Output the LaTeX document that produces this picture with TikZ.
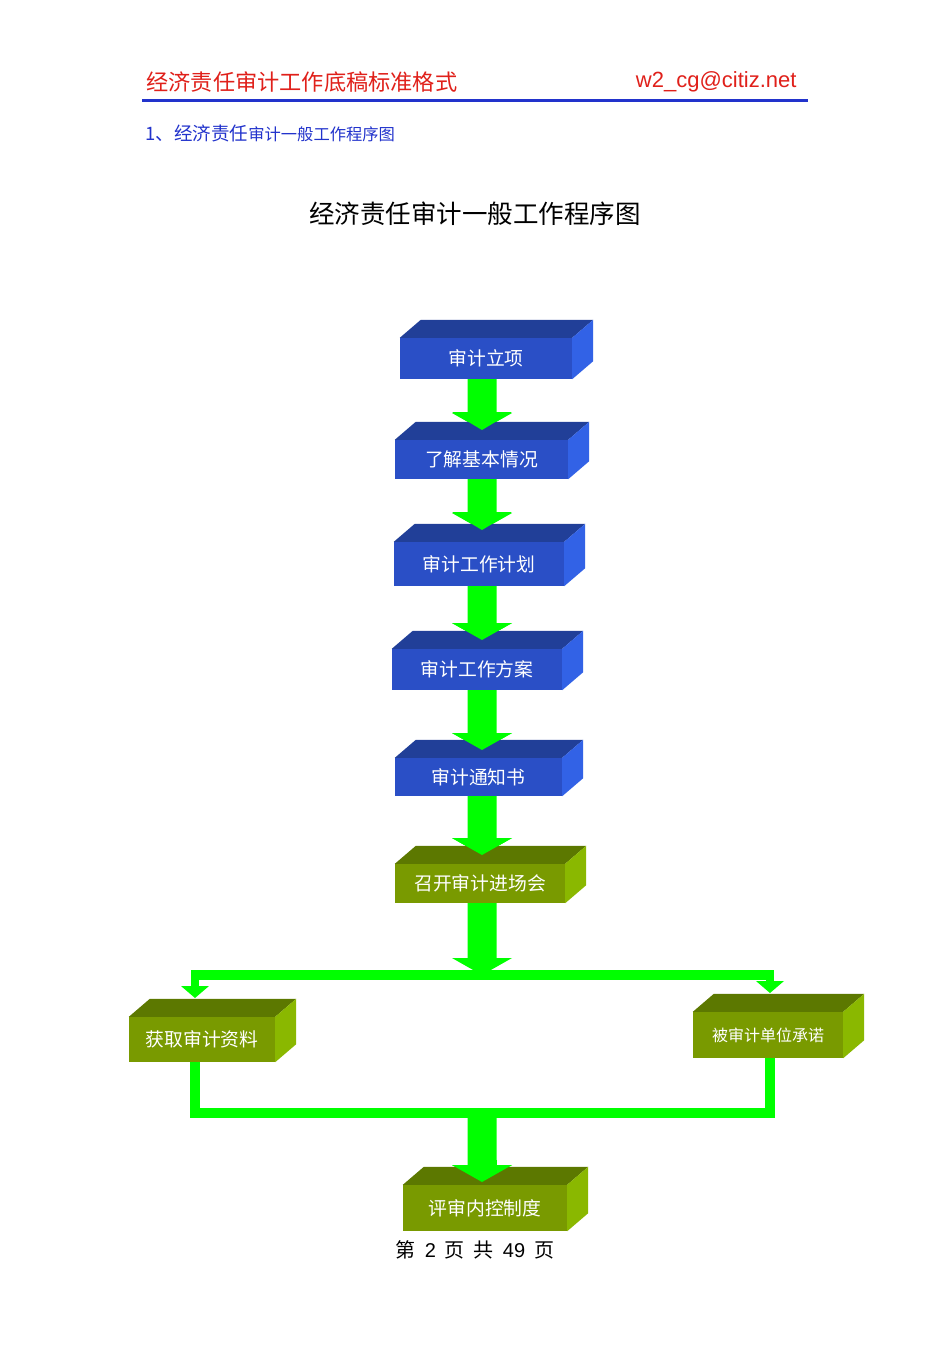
\documentclass[tikz,border=0pt]{standalone}
\usepackage{fontspec}
\setmainfont{Noto Sans CJK SC}
\newfontfamily\cjk{Noto Sans CJK SC}
\newfontfamily\lsans{Liberation Sans}
\usetikzlibrary{calc}
\definecolor{bF}{HTML}{2A4FC6}\definecolor{bT}{HTML}{213F98}\definecolor{bS}{HTML}{3262E6}
\definecolor{gF}{HTML}{799A00}\definecolor{gT}{HTML}{5C7800}\definecolor{gS}{HTML}{8AB800}
\definecolor{ar}{HTML}{00FF00}\definecolor{hred}{HTML}{E0201A}\definecolor{hblue}{HTML}{2233CC}
\tikzset{
 bx/.style={minimum width=#1, inner sep=0pt, text=white, font=\cjk\fontsize{18.8}{22}\selectfont},
 bxb/.style={bx=#1, fill=bF}, bxg/.style={bx=#1, fill=gF},
 arw/.style={fill=ar}
}
\newcommand\topside[3]{% node, top colour, side colour
 \fill[#2] (#1.north west) -- ++(21,-18) -- ($(#1.north east)+(21,-18)$) -- (#1.north east) -- cycle;
 \fill[#3] (#1.north east) -- ++(21,-18) -- ($(#1.south east)+(21,-18)$) -- (#1.south east) -- cycle;}
\newcommand\varrow[3]{% x, y-start, tip
 \fill[arw] (#1-14.5,#2) -- (#1+14.5,#2) -- (#1+14.5,#3-17) -- (#1+30,#3-17) -- (#1,#3) -- (#1-30,#3-17) -- (#1-14.5,#3-17) -- cycle;}
\begin{document}
\begin{tikzpicture}[x=1pt,y=-1pt]
\useasboundingbox[fill=white] (0,0) rectangle (950,1345);
% header
\node[anchor=west, text=hred, font=\cjk\fontsize{22.2}{26}\selectfont] (h1) at (143,82) {经济责任审计工作底稿标准格式};
\node[anchor=east, text=hred, font=\lsans\fontsize{22}{26}\selectfont] (h2) at (800,82) {w2\_cg@citiz.net};
\draw[hblue, line width=3pt] (142,100) -- (808,100);
\node[anchor=west, text=hblue, font=\cjk\fontsize{18.5}{22}\selectfont] (sub) at (142,133) {1、经济责任{\fontsize{16.3}{20}\selectfont 审计一般工作程序图}};
\node[font=\cjk\fontsize{25.5}{30}\selectfont] (title) at (475,214) {经济责任审计一般工作程序图};
\node[font=\cjk\fontsize{20}{24}\selectfont] (foot) at (475,1250) {第\ \ {\lsans 2}\ \ 页\ \ 共\ \ {\lsans 49}\ \ 页};
% arrows (behind boxes)
\varrow{482}{379}{430}
\varrow{482}{479}{530}
\varrow{482}{586}{640}
\varrow{482}{690}{750}
\varrow{482}{796}{855}
\varrow{482}{903}{975}
\fill[arw] (191,970) rectangle (774,980);
\fill[arw] (191,970) rectangle (199,988);
\fill[arw] (181,986) -- (209,986) -- (195,998) -- cycle;
\fill[arw] (766,970) rectangle (774,983);
\fill[arw] (756,981) -- (784,981) -- (770,993) -- cycle;
\fill[arw] (190,1060) rectangle (200,1118);
\fill[arw] (765,1056) rectangle (775,1118);
\fill[arw] (190,1108) rectangle (775,1118);
\varrow{482}{1108}{1182}
% boxes
\node[bxb=172pt, minimum height=41pt] (b1) at (486,358.5) {审计立项};
\node[bxb=173pt, minimum height=39pt] (b2) at (481.5,459.5) {了解基本情况};
\node[bxb=170pt, minimum height=44pt] (b3) at (479,564) {审计工作计划};
\node[bxb=170pt, minimum height=41pt] (b4) at (477,669.5) {审计工作方案};
\node[bxb=167pt, minimum height=38pt] (b5) at (478.5,777) {审计通知书};
\node[bxg=170pt, minimum height=39pt] (b6) at (480,883.5) {召开审计进场会};
\node[bxg=146pt, minimum height=45pt] (b7) at (202,1039.5) {获取审计资料};
\node[bxg=150pt, minimum height=46pt, font=\cjk\fontsize{16}{19}\selectfont] (b8) at (768,1035) {被审计单位承诺};
\node[bxg=164pt, minimum height=46pt] (b9) at (485,1208) {评审内控制度};
\topside{b1}{bT}{bS}\topside{b2}{bT}{bS}\topside{b3}{bT}{bS}\topside{b4}{bT}{bS}\topside{b5}{bT}{bS}
\topside{b6}{gT}{gS}\topside{b7}{gT}{gS}\topside{b8}{gT}{gS}\topside{b9}{gT}{gS}
% arrow tips over box tops
\fill[arw] (452,412) -- (512,412) -- (482,430) -- cycle;
\fill[arw] (452,512) -- (512,512) -- (482,530) -- cycle;
\fill[arw] (452,623) -- (512,623) -- (482,640) -- cycle;
\fill[arw] (452,733) -- (512,733) -- (482,750) -- cycle;
\fill[arw] (452,838) -- (512,838) -- (482,855) -- cycle;
\fill[arw] (452,1165) -- (512,1165) -- (482,1182) -- cycle;
\fill[arw] (467.5,1160) rectangle (496.5,1166);
\end{tikzpicture}
\end{document}
